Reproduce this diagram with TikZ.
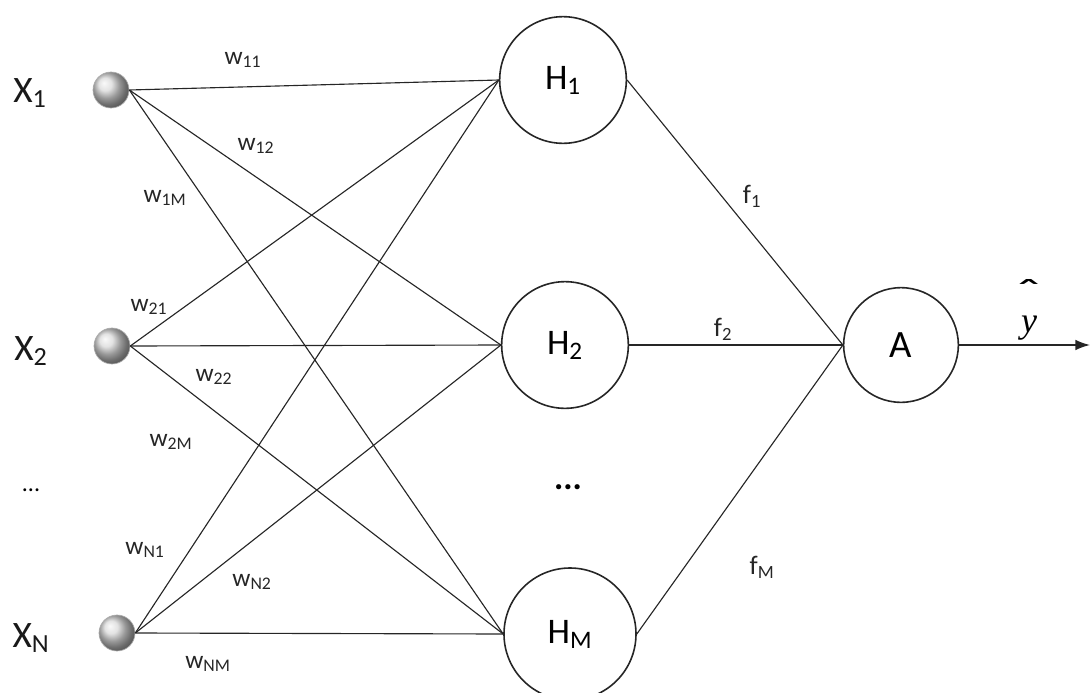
\documentclass[tikz,border=0pt]{standalone}
\usepackage{fontspec}
\setmainfont{Carlito}
\newfontfamily\yfont{Liberation Serif}
\usetikzlibrary{arrows.meta}
\begin{document}
\begin{tikzpicture}[x=0.75pt,y=-0.75pt,
  inp/.style={circle, draw=gray!65, line width=0.5pt, shading=ball, ball color=gray!30, minimum size=27pt, inner sep=0pt},
  hid/.style={circle, draw=black!85, line width=1.2pt, minimum size=95pt, inner sep=0pt, font=\fontsize{27}{29}\selectfont},
  conn/.style={draw=black!85, line width=0.85pt},
  xlab/.style={font=\fontsize{28}{30}\selectfont, text=black!90},
  wlab/.style={font=\fontsize{19}{21}\selectfont, text=black!85},
  flab/.style={font=\fontsize{20}{22}\selectfont, text=black!85}]
\useasboundingbox (0,0) rectangle (1090,693);
% input nodes
\node[inp] (x1) at (111,90) {};
\node[inp] (x2) at (112,346) {};
\node[inp] (xn) at (117,633) {};
\node[xlab] (lx1) at (30,93) {X\textsubscript{1}};
\node[xlab] (lx2) at (31,351) {X\textsubscript{2}};
\node[xlab] (lxn) at (31,638) {X\textsubscript{N}};
\node[font=\fontsize{18}{20}\selectfont] (ldots) at (31,490) {...};
% hidden nodes
\node[hid] (h1) at (563,80) {H\textsubscript{1}};
\node[hid] (h2) at (565,345) {H\textsubscript{2}};
\node[hid, minimum size=99pt] (hm) at (570,634) {H\textsubscript{M}};
\node[font=\fontsize{26}{28}\selectfont\bfseries] (hdots) at (568,487) {...};
% output node
\node[hid, minimum size=86pt, font=\fontsize{29}{31}\selectfont] (a) at (901,345) {A};
\coordinate (out) at (1090,345);
% connectors input -> hidden
\foreach \i in {x1,x2,xn}{
  \foreach \j in {h1,h2,hm}{
    \draw[conn] (\i.east) -- (\j.west);
  }
}
% hidden -> output
\draw[conn] (h1.east) -- (a.west);
\draw[conn] (h2.east) -- (a.west);
\draw[conn] (hm.east) -- (a.west);
\draw[draw=black!85, line width=1.2pt, -{Latex[length=11pt,width=8pt]}] (a.east) -- (out);
% weight labels
\node[wlab] (w11) at (243,60) {w\textsubscript{11}};
\node[wlab] (w12) at (256,146) {w\textsubscript{12}};
\node[wlab] (w1m) at (165,198) {w\textsubscript{1M}};
\node[wlab] (w21) at (149,307) {w\textsubscript{21}};
\node[wlab] (w22) at (214,377) {w\textsubscript{22}};
\node[wlab] (w2m) at (171,442) {w\textsubscript{2M}};
\node[wlab] (wn1) at (145,550) {w\textsubscript{N1}};
\node[wlab] (wn2) at (252,582) {w\textsubscript{N2}};
\node[wlab] (wnm) at (208,664) {w\textsubscript{NM}};
% f labels
\node[flab] (f1) at (752,196) {f\textsubscript{1}};
\node[flab] (f2) at (723,329) {f\textsubscript{2}};
\node[flab] (fm) at (762,567) {f\textsubscript{M}};
% y hat (one text: circumflex above y)
\node[align=center, inner sep=0pt, font=\fontsize{27}{20}\selectfont] (yhat) at (1029,310)
  {{\fontsize{30}{20}\selectfont\scalebox{1.6}[1]{ˆ}}\\{\yfont\itshape y}};
\end{tikzpicture}
\end{document}
